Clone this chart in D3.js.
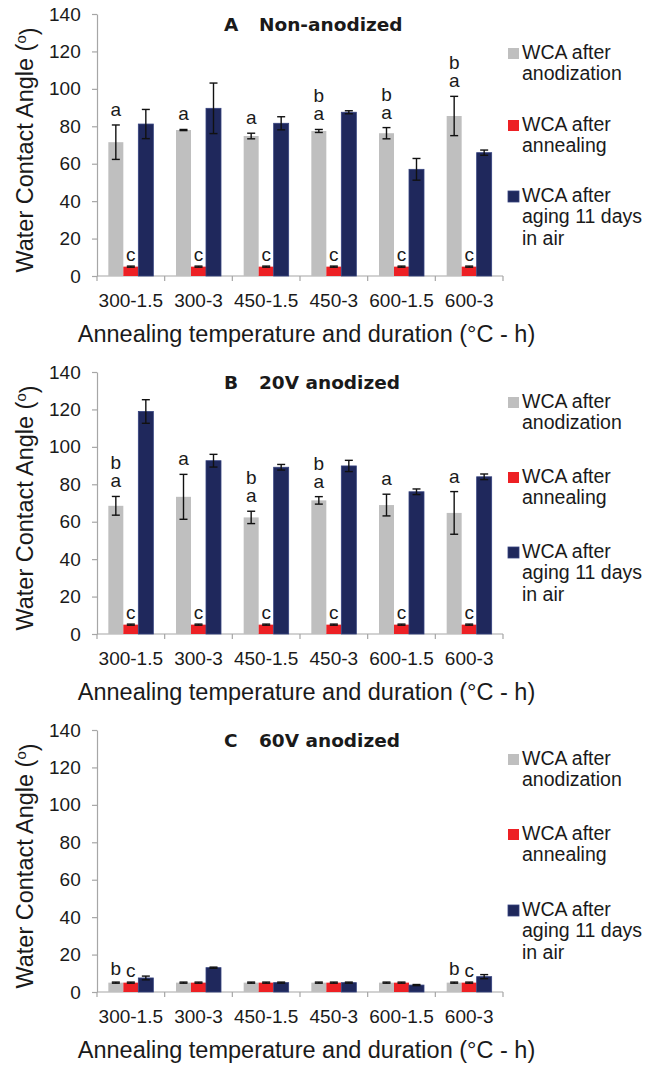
<!DOCTYPE html>
<html>
<head>
<meta charset="utf-8">
<script src="https://cdn.jsdelivr.net/npm/d3@7"></script>
<style>
body { margin: 0; background: #fff; }
svg text { font-family: "Liberation Sans", Arial, sans-serif; fill: #1a1a1a; }
.title { font-family: "DejaVu Sans", Verdana, sans-serif; font-weight: bold; font-size: 18.5px; }
</style>
</head>
<body>
<script>
// categories and series
var categories = ["300-1.5", "300-3", "450-1.5", "450-3", "600-1.5", "600-3"];
var legendLines = [["WCA after", "anodization"], ["WCA after", "annealing"], ["WCA after", "aging 11 days", "in air"]];
var colors = ["#bfbfbf", "#ed2024", "#1f285c"];
var yTicks = [0, 20, 40, 60, 80, 100, 120, 140];

// panel A - non-anodized
var aAnod = [71.5, 78.0, 74.8, 77.5, 76.3, 85.5];
var aAnodErr = [9.2, 0.3, 1.5, 0.8, 3.0, 10.5];
var aAnneal = [5, 5, 5, 5, 5, 5];
var aAnnealErr = [0.3, 0.3, 0.3, 0.3, 0.3, 0.3];
var aAged = [81.2, 89.6, 81.6, 87.5, 57.0, 65.9];
var aAgedErr = [7.8, 13.5, 3.5, 0.8, 5.8, 1.4];
var aAnodLetters = ["a", "a", "a", "ba", "ba", "ba"];
var aAnnealLetters = ["c", "c", "c", "c", "c", "c"];

// panel B - 20V anodized
var bAnod = [68.5, 73.3, 62.3, 71.4, 68.9, 64.7];
var bAnodErr = [5.0, 12.0, 3.3, 2.0, 5.8, 11.4];
var bAnneal = [5, 5, 5, 5, 5, 5];
var bAnnealErr = [0.3, 0.3, 0.3, 0.3, 0.3, 0.3];
var bAged = [118.9, 92.6, 89.1, 89.8, 76.0, 84.0];
var bAgedErr = [6.3, 3.4, 1.5, 3.0, 1.5, 1.5];
var bAnodLetters = ["ba", "a", "ba", "ba", "a", "a"];
var bAnnealLetters = ["c", "c", "c", "c", "c", "c"];

// panel C - 60V anodized
var cAnod = [5, 5, 5, 5, 5, 5];
var cAnodErr = [0.3, 0.3, 0.3, 0.3, 0.3, 0.3];
var cAnneal = [5, 5, 5, 5, 5, 5];
var cAnnealErr = [0.3, 0.3, 0.3, 0.3, 0.3, 0.3];
var cAged = [7.5, 13.0, 5.0, 5.0, 3.7, 8.2];
var cAgedErr = [1.0, 0.3, 0.3, 0.3, 0.3, 1.1];
var cAnodLetters = ["b", "", "", "", "", "b"];
var cAnnealLetters = ["c", "", "", "", "", "c"];

var panels = [
    {tag: "A", name: "Non-anodized", top: 14, legendOff: [45, 117, 188],
     values: [aAnod, aAnneal, aAged], errs: [aAnodErr, aAnnealErr, aAgedErr],
     letters: [aAnodLetters, aAnnealLetters, null]},
    {tag: "B", name: "20V anodized", top: 372, legendOff: [36, 111, 186],
     values: [bAnod, bAnneal, bAged], errs: [bAnodErr, bAnnealErr, bAgedErr],
     letters: [bAnodLetters, bAnnealLetters, null]},
    {tag: "C", name: "60V anodized", top: 730, legendOff: [35, 110, 186],
     values: [cAnod, cAnneal, cAged], errs: [cAnodErr, cAnnealErr, cAgedErr],
     letters: [cAnodLetters, cAnnealLetters, null]}
];

var plotH = 262;
var left = 97, right = 503;
var groupW = 45;

var svg = d3.select("body")
    .append("svg")
    .attr("width", 645)
    .attr("height", 1066);

var x = d3.scaleBand().domain(categories).range([left, right]).padding(0);
var xs = d3.scaleBand().domain([0, 1, 2]).range([0, groupW]);

panels.forEach(drawPanel);

function drawPanel(p) {
    var g = svg.append("g");
    var y = d3.scaleLinear().domain([0, 140]).range([p.top + plotH, p.top]);
    var base = y(0);

    // y axis
    var ga = g.append("g")
        .attr("transform", "translate(" + left + ",0)")
        .call(d3.axisLeft(y).tickValues(yTicks).tickSize(5).tickPadding(11.3).tickSizeOuter(0));
    ga.attr("font-size", null).attr("font-family", null);
    ga.selectAll("path, line").attr("stroke", "#a6a6a6").attr("stroke-width", 1.2);
    ga.selectAll("text").style("font-size", "19px").attr("fill", "#1a1a1a");

    // x axis: line, ticks at category boundaries, labels at centres
    g.append("line")
        .attr("x1", left).attr("x2", right)
        .attr("y1", base).attr("y2", base)
        .attr("stroke", "#a6a6a6").attr("stroke-width", 1.2);

    g.selectAll(".xtick")
        .data(d3.range(categories.length + 1))
        .enter()
        .append("line")
        .attr("x1", function(d) { return left + d * x.step(); })
        .attr("x2", function(d) { return left + d * x.step(); })
        .attr("y1", base).attr("y2", base + 5)
        .attr("stroke", "#a6a6a6").attr("stroke-width", 1.2);

    g.selectAll(".xlab")
        .data(categories)
        .enter()
        .append("text")
        .attr("x", function(d) { return x(d) + x.bandwidth() / 2; })
        .attr("y", base + 31)
        .attr("text-anchor", "middle")
        .style("font-size", "19px")
        .text(function(d) { return d; });

    // bars, error bars, letters
    p.values.forEach(function(vals, s) {
        var errs = p.errs[s];
        var bx = function(i) { return x(categories[i]) + x.bandwidth() / 2 - groupW / 2 + xs(s); };

        g.selectAll(".bar" + s)
            .data(vals)
            .enter()
            .append("rect")
            .attr("x", function(d, i) { return bx(i); })
            .attr("y", function(d) { return y(d); })
            .attr("width", xs.bandwidth())
            .attr("height", function(d) { return base - y(d); })
            .attr("fill", colors[s])
            .attr("stroke", s == 2 ? "#35427e" : "none")
            .attr("stroke-width", 0.8);

        var eb = g.selectAll(".err" + s)
            .data(vals)
            .enter()
            .append("g")
            .attr("stroke", "#111")
            .attr("stroke-width", 1.4);
        eb.append("line")
            .attr("x1", function(d, i) { return bx(i) + xs.bandwidth() / 2; })
            .attr("x2", function(d, i) { return bx(i) + xs.bandwidth() / 2; })
            .attr("y1", function(d, i) { return y(d + errs[i]); })
            .attr("y2", function(d, i) { return y(d - errs[i]); });
        [1, -1].forEach(function(sign) {
            eb.append("line")
                .attr("x1", function(d, i) { return bx(i) + xs.bandwidth() / 2 - 4; })
                .attr("x2", function(d, i) { return bx(i) + xs.bandwidth() / 2 + 4; })
                .attr("y1", function(d, i) { return y(d + sign * errs[i]); })
                .attr("y2", function(d, i) { return y(d + sign * errs[i]); });
        });

        // significance letters, stacked in one text element
        var lets = p.letters[s];
        if (lets) {
            var gap = (s == 1) ? 5 : (p.tag == "C" ? 7 : 9);
            vals.forEach(function(d, i) {
                var chars = lets[i].split("");
                if (!chars.length) return;
                var cx = bx(i) + xs.bandwidth() / 2;
                var t = g.append("text")
                    .attr("x", cx)
                    .attr("y", y(d + errs[i]) - gap - (chars.length - 1) * 18)
                    .attr("text-anchor", "middle")
                    .style("font-size", "19px");
                chars.forEach(function(ch, k) {
                    t.append("tspan")
                        .attr("x", cx)
                        .attr("dy", k == 0 ? 0 : 18)
                        .text(ch);
                });
            });
        }
    });

    // title
    g.append("text").attr("class", "title")
        .attr("x", 224).attr("y", p.top + 16.7).text(p.tag);
    g.append("text").attr("class", "title")
        .attr("x", 259).attr("y", p.top + 16.7).text(p.name);

    // legend
    legendLines.forEach(function(lines, k) {
        var yb = p.top + p.legendOff[k];
        g.append("rect")
            .attr("x", 508).attr("y", yb - 11)
            .attr("width", 11).attr("height", 11)
            .attr("fill", colors[k])
            .attr("stroke", k == 2 ? "#35427e" : "none").attr("stroke-width", 0.8);
        lines.forEach(function(t, j) {
            g.append("text")
                .attr("x", 522).attr("y", yb + j * 21.4)
                .style("font-size", "19.5px")
                .text(t);
        });
    });

    // axis titles
    g.append("text")
        .attr("x", 306.5).attr("y", base + 66)
        .attr("text-anchor", "middle")
        .style("font-size", "23.5px")
        .text("Annealing temperature and duration (\u00B0C - h)");

    var yl = g.append("text")
        .attr("transform", "translate(33," + (p.top + 136) + ") rotate(-90)")
        .attr("text-anchor", "middle")
        .style("font-size", "23.5px");
    yl.append("tspan").text("Water Contact Angle (");
    yl.append("tspan").attr("dy", "-0.45em").style("font-size", "15px").text("o");
    yl.append("tspan").attr("dy", "0.45em").text(")");
}
</script>
</body>
</html>
